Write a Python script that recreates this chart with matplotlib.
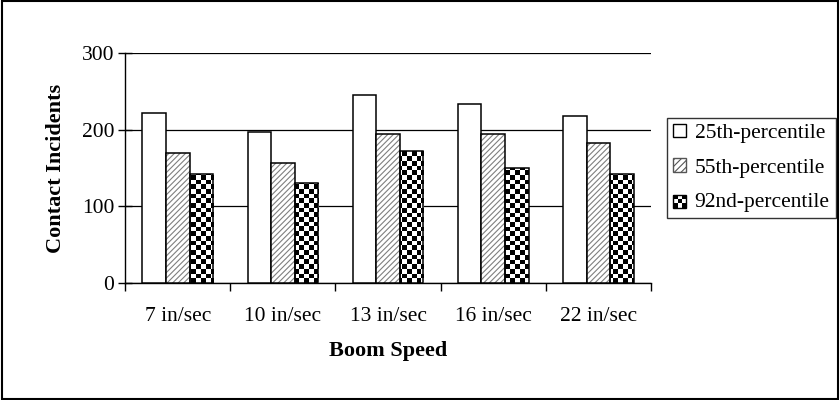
import numpy as np
import matplotlib
matplotlib.use('Agg')
import matplotlib.pyplot as plt
from matplotlib.patches import Rectangle
from matplotlib.legend_handler import HandlerBase

speeds = ['7 in/sec', '10 in/sec', '13 in/sec', '16 in/sec', '22 in/sec']
p25 = [222, 197, 245, 234, 218]
p55 = [169, 157, 195, 195, 183]
p92 = [142, 130, 172, 150, 142]
labels = ['25th-percentile', '55th-percentile', '92nd-percentile']

FONT_SIZE = 15.5
LAB_SIZE = 16
plt.rcParams['font.family'] = ['Liberation Serif', 'DejaVu Serif']
plt.rcParams['hatch.linewidth'] = 0.8

fig = plt.figure(figsize=(8.4, 4.0), dpi=100)
ax = fig.add_axes([0.149, 0.2925, 0.626, 0.575])

x = np.arange(len(speeds))
w = 0.224

# white bars
ax.bar(x - w, p25, w, color='white', edgecolor='black', linewidth=1.1, zorder=3)
# hatched bars: grey hatch first, black outline on top
ax.bar(x, p55, w, color='white', edgecolor='#7f7f7f', hatch='//////', linewidth=0, zorder=3)
ax.bar(x, p55, w, fill=False, edgecolor='black', linewidth=1.1, zorder=4)
# checker bars (pattern is an image clipped to each bar)
chk = ax.bar(x + w, p92, w, facecolor='none', edgecolor='black', linewidth=1.1, zorder=4)

xlim = (-0.5, len(speeds) - 0.5)
ylim = (0, 300)
nx, ny = 112, 49
board = (np.add.outer(np.arange(ny), np.arange(nx)) % 2).astype(float)
for b in chk:
    im = ax.imshow(board, cmap='gray', extent=(*xlim, *ylim),
                   interpolation='nearest', aspect='auto', zorder=3.5)
    im.set_clip_path(b)
ax.set_aspect('auto')
ax.set_xlim(*xlim)
ax.set_ylim(*ylim)

ax.set_yticks([0, 100, 200, 300])
ax.yaxis.grid(True, color='black', linewidth=0.9)
ax.set_axisbelow(True)
ax.set_xticks(x)
ax.set_xticklabels(speeds, fontsize=FONT_SIZE)
ax.set_xticks(np.arange(len(speeds) + 1) - 0.5, minor=True)
ax.tick_params(axis='x', which='major', length=0, pad=17)
ax.tick_params(axis='x', which='minor', length=5.5, width=1, color='black')
ax.tick_params(axis='y', labelsize=FONT_SIZE, direction='inout', length=10, width=1, pad=3)
for s in ['top', 'right']:
    ax.spines[s].set_visible(False)
ax.spines['left'].set_linewidth(1)
ax.spines['bottom'].set_linewidth(1)

ax.set_xlabel('Boom Speed', fontsize=LAB_SIZE, fontweight='bold', labelpad=11)
ax.set_ylabel('Contact Incidents', fontsize=LAB_SIZE, fontweight='bold', labelpad=11)


class CheckerHandler(HandlerBase):
    def create_artists(self, legend, orig, xd, yd, width, height, fontsize, trans):
        n = 3
        arts = [Rectangle((xd, yd), width, height, facecolor='white',
                          edgecolor='none', transform=trans)]
        cw, ch = width / n, height / n
        for i in range(n):
            for j in range(n):
                if (i + j) % 2 == 0:
                    arts.append(Rectangle((xd + i * cw, yd + j * ch), cw, ch,
                                          facecolor='black', edgecolor='none',
                                          transform=trans))
        arts.append(Rectangle((xd, yd), width, height, fill=False,
                              edgecolor='black', linewidth=1, transform=trans))
        return arts


h1 = Rectangle((0, 0), 1, 1, facecolor='white', edgecolor='black', linewidth=1)
h2 = Rectangle((0, 0), 1, 1, facecolor='white', edgecolor='#555555', hatch='/////', linewidth=1)
h3 = Rectangle((0, 0), 1, 1)
leg = fig.legend([h1, h2, h3], labels, loc='center left',
                 bbox_to_anchor=(667 / 840, 1 - 168 / 400),
                 prop={'size': FONT_SIZE}, frameon=True, fancybox=False,
                 handlelength=0.58, handleheight=0.58, handletextpad=0.4,
                 labelspacing=0.7, borderpad=0.3, borderaxespad=0,
                 handler_map={h3: CheckerHandler()})
leg.get_frame().set_edgecolor('black')
leg.get_frame().set_linewidth(1)

fig.patches.append(Rectangle((0.002, 0.003), 0.996, 0.994, fill=False,
                             edgecolor='black', linewidth=1.5,
                             transform=fig.transFigure, figure=fig))

plt.savefig('out.png', dpi=100)
